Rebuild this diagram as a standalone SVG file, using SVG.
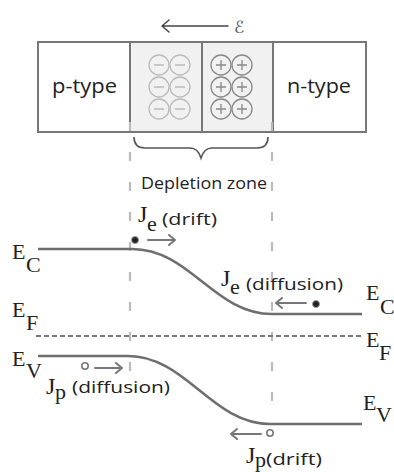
<svg xmlns="http://www.w3.org/2000/svg" width="394" height="472" viewBox="0 0 394 472">
<defs>
<style>
.box{fill:#fff;stroke:#777;stroke-width:2}
.dep{fill:#f1f1f1;stroke:#777;stroke-width:2}
.neg{fill:none;stroke:#bbb;stroke-width:1.3}
.negs{stroke:#bbb;stroke-width:1.6}
.pos{fill:none;stroke:#888;stroke-width:1.3}
.poss{stroke:#888;stroke-width:1.3}
.sans{font-family:"Open Sans",Lato,sans-serif;fill:#222}
.ser{font-family:"Liberation Serif","Times New Roman",serif;fill:#222;font-size:22px}
.jj{font-size:24px}
.band{fill:none;stroke:#6e6e6e;stroke-width:2.5}
.vdash{fill:none;stroke:#bbb;stroke-width:2.2;stroke-dasharray:9 21}
.fermi{fill:none;stroke:#777;stroke-width:2;stroke-dasharray:5 3}
.arr{fill:none;stroke:#777;stroke-width:2;stroke-linecap:round;stroke-linejoin:round}
</style>
</defs>
<rect width="394" height="472" fill="#fff"/>

<g id="field">
<path d="M228,26 H162 M169,20 L162,26 L169,32" fill="none" stroke="#444" stroke-width="1.5" stroke-linecap="round" stroke-linejoin="round"/>
<text x="234" y="33" font-family="DejaVu Serif, DejaVu Sans, serif" font-size="17" font-style="italic" fill="#555">ℰ</text>
</g>

<g id="p-type">
<rect class="box" x="38" y="42" width="92" height="90"/>
<text class="sans" x="52" y="93" font-size="20" textLength="65" lengthAdjust="spacingAndGlyphs">p-type</text>
</g>

<g id="depletion-negative">
<rect class="dep" x="130" y="42" width="72" height="90"/>
<g class="neg">
<circle cx="159" cy="65" r="10"/><circle cx="180" cy="65" r="10"/>
<circle cx="159" cy="87" r="10"/><circle cx="180" cy="87" r="10"/>
<circle cx="159" cy="109" r="10"/><circle cx="180" cy="109" r="10"/>
</g>
<path class="negs" d="M154,65h10M175,65h10M154,87h10M175,87h10M154,109h10M175,109h10"/>
</g>

<g id="depletion-positive">
<rect class="dep" x="202" y="42" width="71" height="90"/>
<g class="pos">
<circle cx="221" cy="65" r="10"/><circle cx="242" cy="65" r="10"/>
<circle cx="221" cy="87" r="10"/><circle cx="242" cy="87" r="10"/>
<circle cx="221" cy="109" r="10"/><circle cx="242" cy="109" r="10"/>
</g>
<path class="poss" d="M216,65h10M221,60v10M237,65h10M242,60v10M216,87h10M221,82v10M237,87h10M242,82v10M216,109h10M221,104v10M237,109h10M242,104v10"/>
</g>

<g id="n-type">
<rect class="box" x="273" y="42" width="93" height="90"/>
<text class="sans" x="287" y="93" font-size="20" textLength="64" lengthAdjust="spacingAndGlyphs">n-type</text>
</g>

<g id="depletion-zone">
<path d="M134,137 Q134,148 145,148 H190 Q198,148 201,158 Q204,148 212,148 H257 Q268,148 268,137" fill="none" stroke="#555" stroke-width="1.6"/>
<text class="sans" x="141" y="189" font-size="17" textLength="126" lengthAdjust="spacingAndGlyphs">Depletion zone</text>
</g>

<g id="connectors">
<path class="vdash" d="M130,122 V422"/>
<path class="vdash" d="M272,122 V422"/>
<path class="fermi" d="M36,336 H362"/>
<path class="arr" d="M148,240 H175 M169,235 L175,240 L169,245"/>
<path class="arr" d="M306,303 H276 M282,298 L276,303 L282,308"/>
<path class="arr" d="M95,368 H122 M116,363 L122,368 L116,373"/>
<path class="arr" d="M261,434 H231 M237,429 L231,434 L237,439"/>
</g>

<g id="conduction-band">
<path class="band" d="M38,249 H132 C190,249 214,314 272,314 H362"/>
<text class="ser" x="12" y="259">E</text><text class="ser" x="26" y="272">C</text>
<text class="ser" x="366" y="300">E</text><text class="ser" x="380" y="314">C</text>
</g>

<g id="fermi-level">
<text class="ser" x="12" y="317">E</text><text class="ser" x="26" y="330">F</text>
<text class="ser" x="366" y="347">E</text><text class="ser" x="379" y="360">F</text>
</g>

<g id="valence-band">
<path class="band" d="M38,356 H128 C186,356 212,424 270,424 H362"/>
<text class="ser" x="12" y="366">E</text><text class="ser" x="26" y="378">V</text>
<text class="ser" x="363" y="410">E</text><text class="ser" x="376" y="422">V</text>
</g>

<g id="electron-drift">
<circle cx="135" cy="240" r="3.5" fill="#222" stroke="#999" stroke-width="1"/>
<text class="ser jj" x="138" y="222">J</text><text class="ser" x="147" y="231">e</text>
<text class="sans" x="162" y="225" font-size="17" textLength="55" lengthAdjust="spacingAndGlyphs">(drift)</text>
</g>

<g id="electron-diffusion">
<circle cx="316" cy="304" r="3.5" fill="#222" stroke="#999" stroke-width="1"/>
<text class="ser jj" x="221" y="286">J</text><text class="ser" x="230" y="294">e</text>
<text class="sans" x="246" y="290" font-size="17" textLength="97" lengthAdjust="spacingAndGlyphs">(diffusion)</text>
</g>

<g id="hole-diffusion">
<circle cx="85" cy="366" r="3.2" fill="#fff" stroke="#777" stroke-width="1.6"/>
<rect x="70" y="380" width="102" height="24" fill="#fff"/>
<text class="ser jj" x="46" y="394">J</text><text class="ser" x="55" y="399">p</text>
<text class="sans" x="72" y="393" font-size="17" textLength="98" lengthAdjust="spacingAndGlyphs">(diffusion)</text>
</g>

<g id="hole-drift">
<circle cx="270" cy="433" r="3.2" fill="#fff" stroke="#777" stroke-width="1.6"/>
<text class="ser jj" x="246" y="463">J</text><text class="ser" x="255" y="467">p</text>
<text class="sans" x="266" y="465" font-size="17" textLength="56" lengthAdjust="spacingAndGlyphs">(drift)</text>
</g>
</svg>
